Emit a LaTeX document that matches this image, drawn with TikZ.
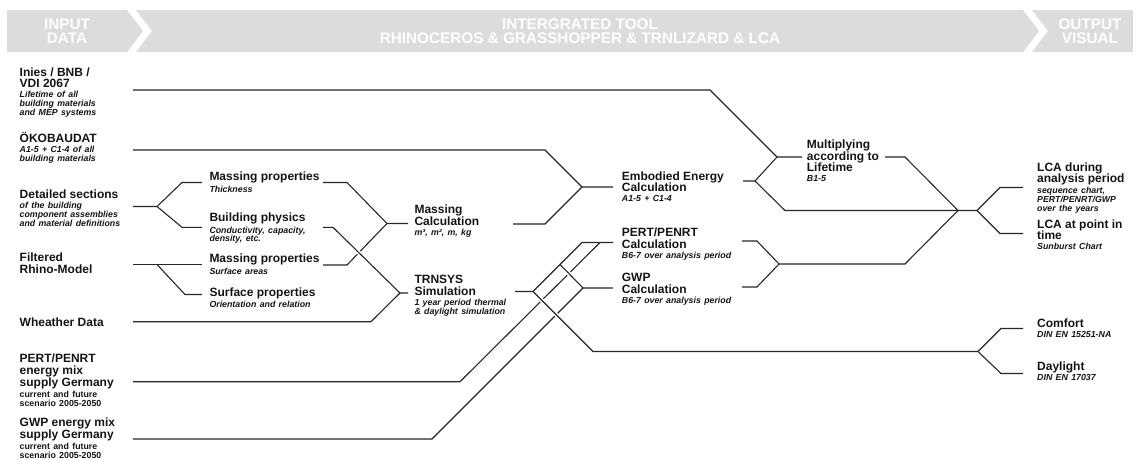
\documentclass[tikz,border=0pt]{standalone}
\usepackage{fontspec}
\setmainfont{Liberation Sans}
\definecolor{bandgray}{HTML}{DCDCDC}
\definecolor{linecol}{HTML}{262626}
\definecolor{txtcol}{HTML}{141414}
\lineskiplimit=-100pt
\newcommand{\ttlfont}{\fontsize{12}{11.7}\selectfont\bfseries}
\newcommand{\subfont}{\fontsize{8.8}{8.8}\selectfont\bfseries\itshape}
\newcommand{\upfont}{\fontsize{8.8}{9}\selectfont\bfseries}
\newcommand{\ttl}[1]{{\ttlfont #1\par}}
\newcommand{\blk}[2]{{\ttlfont #1\par}\vspace{1.4pt}{\subfont #2\par}}
\newcommand{\blkup}[2]{{\ttlfont #1\par}\vspace{2pt}{\upfont #2\par}}
\tikzset{
  txt/.style={anchor=base west,inner sep=0pt,text width=150pt,align=left,text=txtcol},
  ln/.style={draw=linecol,line width=1.1pt},
  gap/.style={draw=white,line width=4pt},
  hdr/.style={text=white,inner sep=0pt,align=center,font=\fontsize{15.3}{14.5}\selectfont\bfseries}
}

\begin{document}
\begin{tikzpicture}[x=1pt,y=-1pt]
\useasboundingbox (0,0) rectangle (1140,459);
\fill[bandgray] (7,10) -- (127,10) -- (143,31) -- (127,52) -- (7,52) -- cycle;
\fill[bandgray] (136,10) -- (1023,10) -- (1039,31) -- (1023,52) -- (136,52) -- (152,31) -- cycle;
\fill[bandgray] (1032,10) -- (1133,10) -- (1133,52) -- (1032,52) -- (1048,31) -- cycle;
\node[hdr] (hin) at (67,31) {INPUT\\DATA};
\node[hdr] (htool) at (580,31) {INTERGRATED TOOL\\RHINOCEROS \& GRASSHOPPER \& TRNLIZARD \& LCA};
\node[hdr] (hout) at (1090,31) {OUTPUT\\VISUAL};

\node[txt] (inies) at (19.5,76) {\blk{Inies / BNB /\\VDI 2067}{Lifetime of all\\building materials\\and MEP systems}};
\node[txt] (oeko) at (19.5,142.3) {\blk{ÖKOBAUDAT}{A1-5 + C1-4 of all\\building materials}};
\node[txt] (detail) at (19.5,198.3) {\blk{Detailed sections}{of the building\\component assemblies\\and material definitions}};
\node[txt] (rhino) at (19.5,261.7) {\ttl{Filtered\\Rhino-Model}};
\node[txt] (weather) at (19.5,326) {\ttl{Wheather Data}};
\node[txt] (pertmix) at (19.5,362.7) {\blkup{PERT/PENRT\\energy mix\\supply Germany}{current and future\\scenario 2005-2050}};
\node[txt] (gwpmix) at (19.5,426.5) {\blkup{GWP energy mix\\supply Germany}{current and future\\scenario 2005-2050}};

\node[txt] (mprop1) at (209.3,180.7) {\blk{Massing properties}{Thickness}};
\node[txt] (bphys) at (209.3,221.7) {\blk{Building physics}{Conductivity, capacity,\\density, etc.}};
\node[txt] (mprop2) at (209.3,262.7) {\blk{Massing properties}{Surface areas}};
\node[txt] (sprop) at (209.3,296) {\blk{Surface properties}{Orientation and relation}};
\node[txt] (mcalc) at (414.3,213.3) {\blk{Massing\\Calculation}{m³, m², m, kg}};
\node[txt] (trnsys) at (414.3,283.3) {\blk{TRNSYS\\Simulation}{1 year period thermal\\\& daylight simulation}};
\node[txt] (embod) at (621.7,180) {\blk{Embodied Energy\\Calculation}{A1-5 + C1-4}};
\node[txt] (pcalc) at (621.7,236.7) {\blk{PERT/PENRT\\Calculation}{B6-7 over analysis period}};
\node[txt] (gcalc) at (621.7,281.7) {\blk{GWP\\Calculation}{B6-7 over analysis period}};
\node[txt] (multi) at (806.7,148.3) {\blk{Multiplying\\according to\\Lifetime}{B1-5}};
\node[txt] (lcaper) at (1037,171) {\blk{LCA during\\analysis period}{sequence chart,\\PERT/PENRT/GWP\\over the years}};
\node[txt] (lcapt) at (1037,228) {\blk{LCA at point in\\time}{Sunburst Chart}};
\node[txt] (comfort) at (1037,327.3) {\blk{Comfort}{DIN EN 15251-NA}};
\node[txt] (daylight) at (1037,370) {\blk{Daylight}{DIN EN 17037}};

\coordinate (iniesL) at (133,90);
\coordinate (iniesK) at (710,90);
\coordinate (oekoL) at (133,150);
\coordinate (oekoK) at (545,150);
\coordinate (detL) at (133,206.5);
\coordinate (detJ) at (157,206.5);
\coordinate (detU) at (182,182.5);
\coordinate (detD) at (182,227.3);
\coordinate (mp1L) at (202,182.5);
\coordinate (bpL) at (202,227.3);
\coordinate (filtL) at (133,264.5);
\coordinate (filtJ) at (157,264.5);
\coordinate (filtD) at (185,294.5);
\coordinate (mp2L) at (202,264.5);
\coordinate (spL) at (202,294.5);
\coordinate (weatL) at (133,321.7);
\coordinate (weatK) at (371,321.7);
\coordinate (pertmL) at (133,381.7);
\coordinate (pertmK) at (460,381.7);
\coordinate (pertmE) at (600,242.5);
\coordinate (gwpmL) at (133,439);
\coordinate (gwpmK) at (432,439);

\coordinate (mp1R) at (323,182.5);
\coordinate (mp1K) at (347,182.5);
\coordinate (bpR) at (323,227.3);
\coordinate (bpK) at (333,227.3);
\coordinate (mp2R) at (323,265);
\coordinate (mp2K) at (347,265);
\coordinate (mcJ) at (387,223.5);
\coordinate (mcL) at (408,223.5);
\coordinate (trJ) at (400,293);
\coordinate (trL) at (408,293);

\coordinate (mcR) at (513,224);
\coordinate (mcK) at (545,224);
\coordinate (emJ) at (582,187);
\coordinate (emL) at (613,187);
\coordinate (trR) at (515,291.5);
\coordinate (trJ2) at (533,291.5);
\coordinate (trB) at (560,264.5);
\coordinate (trC) at (593,351.5);
\coordinate (peJ) at (582,242.5);
\coordinate (peL) at (613,242.5);
\coordinate (gwJ) at (583,288);
\coordinate (gwL) at (613,288);

\coordinate (emR) at (743,181);
\coordinate (emJ2) at (755,181);
\coordinate (emD) at (785,210.5);
\coordinate (muJ) at (777,157);
\coordinate (muL) at (802,157);
\coordinate (muR) at (885,157);
\coordinate (muK) at (905,157);
\coordinate (peR) at (742,241);
\coordinate (peK) at (757,241);
\coordinate (gwR) at (742,287);
\coordinate (gwK) at (757,287);
\coordinate (pgJ) at (779,264);
\coordinate (pgK) at (905,264);
\coordinate (lcJ) at (958,210.5);
\coordinate (lcJ2) at (977,210.5);
\coordinate (lcU) at (1000,187.5);
\coordinate (lcUR) at (1023,187.5);
\coordinate (lcD) at (1000,233.5);
\coordinate (lcDR) at (1023,233.5);
\coordinate (cfJ) at (978,351.5);
\coordinate (cfU) at (1001,328.5);
\coordinate (cfUR) at (1023,328.5);
\coordinate (cfD) at (1001,373.5);
\coordinate (cfDR) at (1023,373.5);

\coordinate (x1) at (358.9,252.7);
\coordinate (x2) at (541.9,300.4);
\coordinate (x3) at (556.3,314.8);
\coordinate (x4) at (568.9,273.6);

\draw[ln] (iniesL) -- (iniesK) -- (muJ) -- (muL);
\draw[ln] (oekoL) -- (oekoK) -- (emJ) -- (emL);
\draw[ln] (detL) -- (detJ) -- (detU) -- (mp1L);
\draw[ln] (detJ) -- (detD) -- (bpL);
\draw[ln] (filtL) -- (mp2L);
\draw[ln] (filtJ) -- (filtD) -- (spL);
\draw[ln] (mp1R) -- (mp1K) -- (mcJ) -- (mcL);
\draw[ln] (mp2R) -- (mp2K) -- (mcJ);
\draw[gap] (x1) ++(-3,-3) -- ++(6,6);
\draw[ln] (bpR) -- (bpK) -- (trJ) -- (trL);
\draw[ln] (weatL) -- (weatK) -- (trJ);
\draw[ln] (mcR) -- (mcK) -- (emJ);
\draw[ln] (pertmL) -- (pertmK) -- (pertmE);
\draw[ln] (gwpmL) -- (gwpmK) -- (gwJ);
\draw[gap] (x2) ++(-3,-3) -- ++(6,6);
\draw[gap] (x3) ++(-3,-3) -- ++(6,6);
\draw[gap] (x4) ++(-3,-3) -- ++(6,6);
\draw[ln] (trR) -- (trJ2) -- (peJ) -- (peL);
\draw[ln] (trB) -- (gwJ) -- (gwL);
\draw[ln] (trJ2) -- (trC) -- (cfJ);
\draw[ln] (cfJ) -- (cfU) -- (cfUR);
\draw[ln] (cfJ) -- (cfD) -- (cfDR);
\draw[ln] (emR) -- (emJ2) -- (muJ);
\draw[ln] (emJ2) -- (emD) -- (lcJ);
\draw[ln] (muR) -- (muK) -- (lcJ);
\draw[ln] (peR) -- (peK) -- (pgJ) -- (pgK) -- (lcJ);
\draw[ln] (gwR) -- (gwK) -- (pgJ);
\draw[ln] (lcJ) -- (lcJ2) -- (lcU) -- (lcUR);
\draw[ln] (lcJ2) -- (lcD) -- (lcDR);
\end{tikzpicture}
\end{document}
